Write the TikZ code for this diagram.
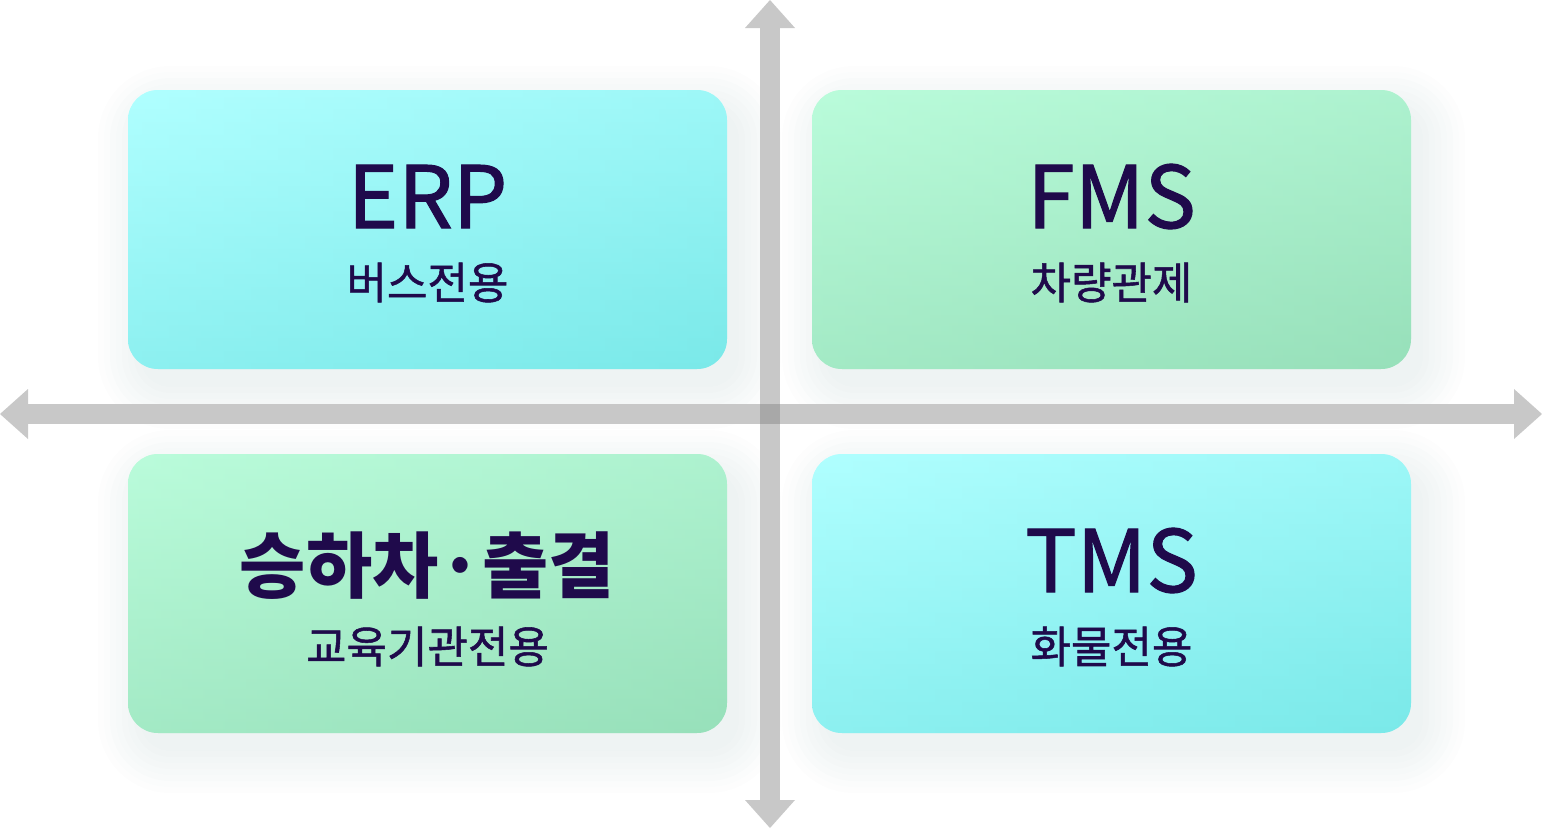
\documentclass[tikz,border=0pt]{standalone}
\usepackage{fontspec}
\setmainfont{Noto Sans CJK KR}
\newfontfamily\medfont[FakeBold=1.2]{Noto Sans CJK KR}
\usetikzlibrary{arrows.meta}

\definecolor{ink}{HTML}{1F0A4B}
\definecolor{axisgray}{HTML}{C8C8C8}
\definecolor{crossgray}{HTML}{A8A8A8}
\definecolor{cyantop}{HTML}{B0FFFF}
\definecolor{cyanmid}{HTML}{8FFDFD}
\definecolor{cyanbot}{HTML}{7AE9E9}
\definecolor{greentop}{HTML}{BAFCDB}
\definecolor{greenmid}{HTML}{A9F0CF}
\definecolor{greenbot}{HTML}{97E0BA}
\definecolor{halogray}{HTML}{8FB0B0}

\begin{document}
\begin{tikzpicture}[x=1pt, y=-1pt,
	axis/.style={line width=20pt, axisgray,
		{Triangle[width=50pt,length=28pt,line width=0pt]}-{Triangle[width=50pt,length=28pt,line width=0pt]}},
	card/.style={rounded corners=30pt, minimum width=599pt, minimum height=279pt, inner sep=0pt},
	cyancard/.style={card, top color=cyantop, middle color=cyanmid, bottom color=cyanbot},
	greencard/.style={card, top color=greentop, middle color=greenmid, bottom color=greenbot},
	cyanside/.style={card, left color=cyantop, middle color=cyanmid, right color=cyanbot, opacity=0.35},
	greenside/.style={card, left color=greentop, middle color=greenmid, right color=greenbot, opacity=0.35},
	halo/.style={halogray, opacity=0.018},
	title/.style={ink, anchor=base, font=\medfont\fontsize{86}{90}\selectfont},
	bigtitle/.style={ink, anchor=base, font=\bfseries\fontsize{72}{76}\selectfont},
	subtitle/.style={ink, anchor=base, font=\medfont\fontsize{44}{48}\selectfont}]

				\useasboundingbox (0,0) rectangle (1542,828);

				% Soft shadow behind the cards
				\foreach \cx/\cy in {427.5/229.5, 1111.5/229.5, 427.5/593.5, 1111.5/593.5}
					\foreach \g in {0,6,...,42}
						\fill[halo, rounded corners=30pt+\g] (\cx-299.5-\g+12, \cy-139.5-\g+18) rectangle (\cx+299.5+\g+12, \cy+139.5+\g+18);

				% Cards
				\node[cyancard] (erpbox) at (427.5,229.5) {};
				\node[greencard] (fmsbox) at (1111.5,229.5) {};
				\node[greencard] (bordbox) at (427.5,593.5) {};
				\node[cyancard] (tmsbox) at (1111.5,593.5) {};

				% Side tint (lighter left, darker right)
				\node[cyanside] at (erpbox) {};
				\node[greenside] at (fmsbox) {};
				\node[greenside] at (bordbox) {};
				\node[cyanside] at (tmsbox) {};

				% Axes
				\coordinate (ytop) at (770,0);
				\coordinate (ybot) at (770,828);
				\coordinate (xleft) at (0,414);
				\coordinate (xright) at (1542,414);
				\draw[axis] (ytop) -- (ybot);
				\draw[axis] (xleft) -- (xright);
				\fill[crossgray] (760,404) rectangle (780,424);

				% Labels
				\node[title] (erp) at ([yshift=1.5pt]erpbox.center) {ERP};
				\node[subtitle] (erpsub) at ([yshift=-69.5pt]erpbox.center) {버스전용};

				\node[title] (fms) at ([yshift=1.5pt]fmsbox.center) {FMS};
				\node[subtitle] (fmssub) at ([yshift=-69.5pt]fmsbox.center) {차량관제};

				\node[bigtitle] (bord) at ([yshift=1.5pt]bordbox.center) {승하차·출결};
				\node[subtitle] (bordsub) at ([yshift=-69.5pt]bordbox.center) {교육기관전용};

				\node[title] (tms) at ([yshift=1.5pt]tmsbox.center) {TMS};
				\node[subtitle] (tmssub) at ([yshift=-69.5pt]tmsbox.center) {화물전용};

			\end{tikzpicture}
\end{document}
